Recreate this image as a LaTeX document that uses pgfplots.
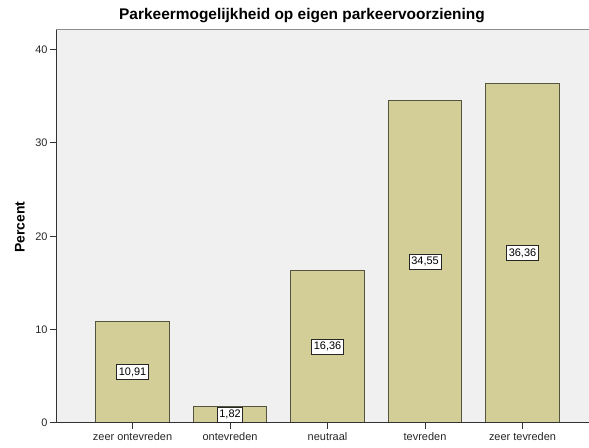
\documentclass[border=0pt]{standalone}
\usepackage{fontspec}
\setmainfont{Liberation Sans}
\usepackage{pgfplots}
\usepackage{pgfplotstable}
\pgfplotsset{compat=1.18}
\definecolor{barfill}{HTML}{D3CE98}
\definecolor{baredge}{HTML}{55553F}
\definecolor{bgc}{HTML}{F0F0F0}
\pgfplotstableread{
x y lab
0 10.91 10,91
1 1.82 1,82
2 16.36 16,36
3 34.55 34,55
4 36.36 36,36
}\datatab
\begin{document}
\begin{tikzpicture}[x=1bp,y=1bp]
\useasboundingbox (0,0) rectangle (589,448);
\begin{axis}[
  at={(56bp,25bp)}, anchor=south west,
  width=533bp, height=393bp, scale only axis,
  xmin=-0.785, xmax=4.682, ymin=0, ymax=42.1,
  axis background/.style={fill=bgc},
  axis line style={draw=none},
  xtick={0,1,2,3,4},
  xticklabels={zeer ontevreden, ontevreden, neutraal, tevreden, zeer tevreden},
  ytick={0,10,20,30,40},
  tick align=outside, xtick pos=bottom, ytick pos=left,
  major tick length=6bp,
  tick style={draw=black!80, line width=1bp},
  ticklabel style={font=\fontsize{11}{13}\selectfont, text=black!85},
  yticklabel style={xshift=1bp},
  /pgf/number format/assume math mode=true,
  clip=false,
]
\addplot[ybar, bar width=0.75, bar shift=0pt, fill=barfill, draw=baredge, line width=1bp] table[x=x,y=y]{\datatab};
\addplot[only marks, mark=none, nodes near coords, point meta=explicit symbolic,
  every node near coord/.append style={anchor=center, draw=black!85, fill=white, line width=0.8bp, inner xsep=2.2bp, inner ysep=3bp, font=\fontsize{11}{13}\selectfont}]
  table[x=x, y expr=\thisrow{y}/2, meta=lab]{\datatab};
\draw[black!80, line width=1bp] (rel axis cs:0,1) -- (rel axis cs:0,0) -- (rel axis cs:1,0);
\draw[black!45, line width=1bp] (rel axis cs:0,1) -- (rel axis cs:1,1);
\node[font=\bfseries\fontsize{15.5}{18}\selectfont, anchor=center] at (rel axis cs:0.4615,1.0356) {Parkeermogelijkheid op eigen parkeervoorziening};
\node[font=\bfseries\fontsize{14}{16}\selectfont, rotate=90, anchor=center] at ([xshift=-36bp]rel axis cs:0,0.4987) {Percent};
\end{axis}
\end{tikzpicture}
\end{document}
